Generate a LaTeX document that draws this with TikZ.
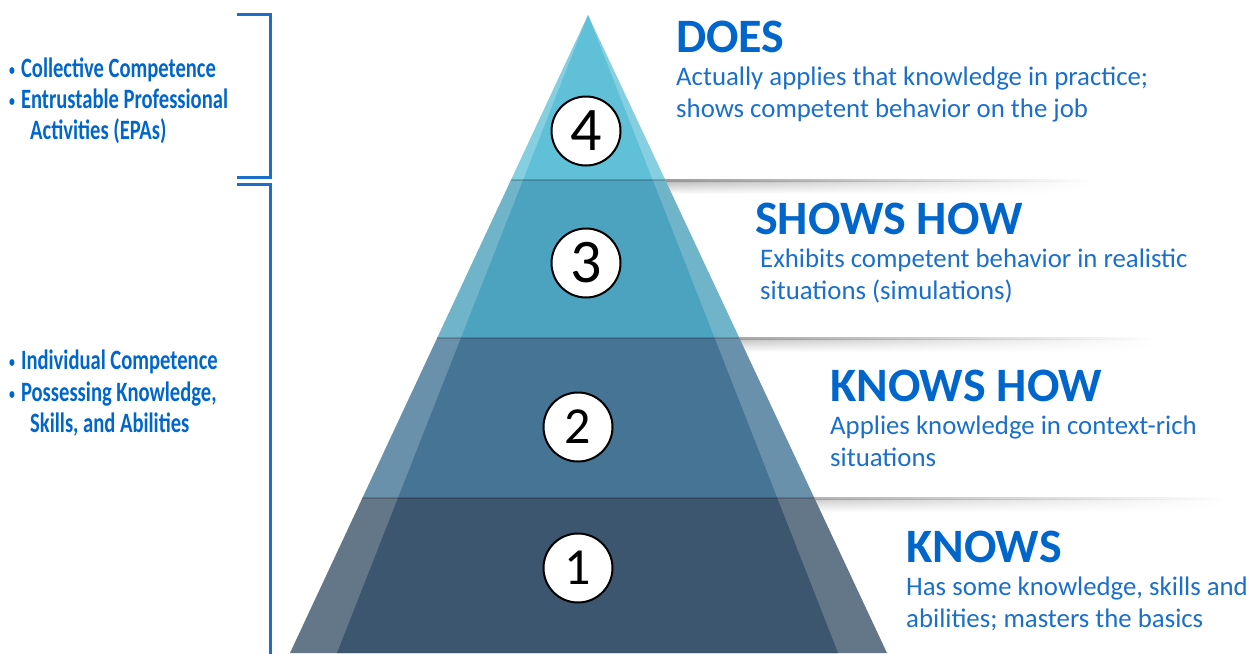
\documentclass[tikz,border=0pt]{standalone}
\usepackage{fontspec}
\setmainfont{Carlito}
\newfontfamily\narrowfont[FakeStretch=0.735]{Carlito}
\usetikzlibrary{calc,fadings}

\definecolor{titleblue}{HTML}{0066CC}
\definecolor{descblue}{HTML}{1A6FCC}
\definecolor{brackblue}{HTML}{1C6FC9}
\definecolor{doesdark}{HTML}{60C0D8}
\definecolor{doeslight}{HTML}{86CFE1}
\definecolor{showsdark}{HTML}{4CA3BF}
\definecolor{showslight}{HTML}{6FB4C9}
\definecolor{howdark}{HTML}{467495}
\definecolor{howlight}{HTML}{6A91AB}
\definecolor{knowsdark}{HTML}{3D566F}
\definecolor{knowslight}{HTML}{637789}

\newcommand{\sidebullet}{{\fontsize{16}{16}\selectfont\raisebox{2pt}{\textbullet}}\hspace{6pt}}

\tikzset{
  title/.style={anchor=base west,inner sep=0,text=titleblue,font=\fontsize{48}{50}\selectfont\bfseries},
  desc/.style={anchor=base west,inner sep=0,text=descblue,font=\fontsize{26.8}{30}\selectfont},
  side/.style={anchor=base west,inner sep=0,text=titleblue,font=\narrowfont\fontsize{28}{30}\selectfont\bfseries},
  numring/.style={circle,draw=black,fill=white,line width=2,minimum size=69,inner sep=0},
}

\begin{document}
\begin{tikzpicture}[x=1pt,y=-1pt]
    \useasboundingbox (0,0) rectangle (1247,653);

    % shadows right of the layer edges
    \foreach \yy/\xe in {180/1090,338/1155,498/1225}{
        \shade[top color=black!30,bottom color=white,path fading=east](600,\yy+1) rectangle (\xe,\yy+14);
        \fill[black!45,path fading=east](600,\yy-1) rectangle (\xe,\yy+2);
    }

    % pyramid
    \coordinate (apex) at (588,15);
    \coordinate (outerL) at (290,653);
    \coordinate (outerR) at (887,653);
    \coordinate (innerL) at (337,653);
    \coordinate (innerR) at (838,653);
    \foreach \ta/\tb/\lc/\dc in {0/0.2586/doeslight/doesdark,0.2586/0.5063/showslight/showsdark,0.5063/0.7571/howlight/howdark,0.7571/1/knowslight/knowsdark}{
        \fill[\lc]($(apex)!\ta!(outerL)$)--($(apex)!\tb!(outerL)$)--($(apex)!\tb!(outerR)$)--($(apex)!\ta!(outerR)$)--cycle;
        \fill[\dc]($(apex)!\ta!(innerL)$)--($(apex)!\tb!(innerL)$)--($(apex)!\tb!(innerR)$)--($(apex)!\ta!(innerR)$)--cycle;
    }
    \foreach \tt in {0.2586,0.5063,0.7571}{
        \draw[black,opacity=0.18,line width=2]($(apex)!\tt!(outerL)$)--($(apex)!\tt!(outerR)$);
    }

    \node[numring,font=\fontsize{62}{62}\selectfont](n4) at (586,131){4};
    \node[numring,font=\fontsize{62}{62}\selectfont](n3) at (586,263){3};
    \node[numring,font=\fontsize{52}{52}\selectfont](n2) at (578,427){2};
    \node[numring,font=\fontsize{52}{52}\selectfont](n1) at (578,568){1};

    % level texts
    \node[title](does) at (676,52){DOES};
    \node[desc](does1) at (676,85){Actually applies that knowledge in practice;};
    \node[desc](does2) at (676,117){shows competent behavior on the job};

    \node[title](shows) at (755,234){SHOWS HOW};
    \node[desc](shows1) at (760,267){Exhibits competent behavior in realistic};
    \node[desc](shows2) at (760,299){situations (simulations)};

    \node[title](knowshow) at (830,401){KNOWS HOW};
    \node[desc](knowshow1) at (830,434){Applies knowledge in context-rich};
    \node[desc](knowshow2) at (830,466){situations};

    \node[title](knows) at (906,562){KNOWS};
    \node[desc](knows1) at (906,595){Has some knowledge, skills and};
    \node[desc](knows2) at (906,627){abilities; masters the basics};

    % brackets and left notes
    \draw[brackblue,line width=3](237,14)--(270,14)--(270,177)--(237,177);
    \draw[brackblue,line width=3](237,184)--(270,184)--(270,660);

    \node[side](coll) at (9,77){\sidebullet Collective Competence};
    \node[side](epa1) at (9,108){\sidebullet Entrustable Professional};
    \node[side](epa2) at (30,139){Activities (EPAs)};
    \node[side](indiv) at (9,369){\sidebullet Individual Competence};
    \node[side](ksa1) at (9,401){\sidebullet Possessing Knowledge,};
    \node[side](ksa2) at (30,432){Skills, and Abilities};
\end{tikzpicture}
\end{document}
